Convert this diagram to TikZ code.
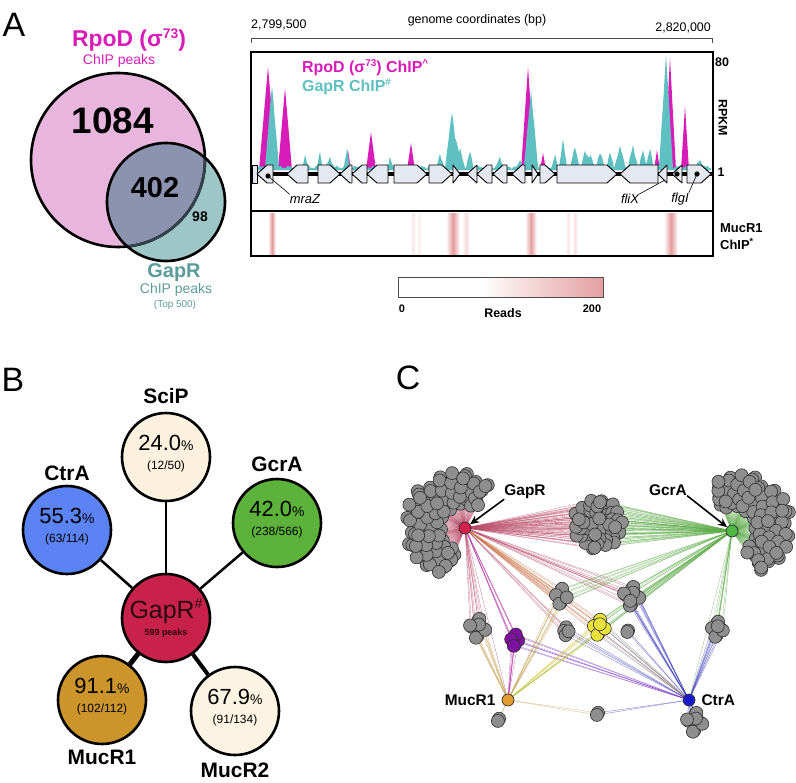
\documentclass[tikz,border=0pt]{standalone}
\usepackage{fontspec}
\setmainfont{Liberation Sans}
\usetikzlibrary{arrows.meta, calc, positioning}

\newcommand{\setfs}[1]{\fontsize{#1}{#1}\selectfont}
\newcommand{\supx}[3]{\raisebox{#2bp}{\setfs{#1}#3}}

\definecolor{rpodmag}{HTML}{D81CB8}
\definecolor{gaprteal}{HTML}{5FC0C2}
\definecolor{gaprtxt}{HTML}{5A9C9A}
\definecolor{vennpink}{HTML}{E8B6DD}
\definecolor{venntl}{HTML}{9EC6C7}
\definecolor{vennov}{HTML}{8B93AE}
\definecolor{ovline}{HTML}{34404C}
\definecolor{genefill}{HTML}{E4E8F0}
\definecolor{heat}{HTML}{E39A9B}
\definecolor{scipc}{HTML}{FBF1DE}
\definecolor{ctrac}{HTML}{5B83F4}
\definecolor{gcrac}{HTML}{5CB23A}
\definecolor{gaprc}{HTML}{C9224A}
\definecolor{gaprdark}{HTML}{2A0810}
\definecolor{mucronec}{HTML}{CB952C}
\definecolor{mucrtwoc}{HTML}{FCF3E3}
\definecolor{dotgray}{HTML}{8E8E8E}
\definecolor{dotline}{HTML}{2E2E2E}
\definecolor{hubred}{HTML}{D8204C}
\definecolor{hubgreen}{HTML}{4FB845}
\definecolor{hubgold}{HTML}{E09C2E}
\definecolor{hubblue}{HTML}{1A1ACC}
\definecolor{clpurple}{HTML}{7E119F}
\definecolor{clyellow}{HTML}{E8E23A}
\definecolor{ered}{HTML}{B84A68}
\definecolor{egreen}{HTML}{5DAA48}
\definecolor{egold}{HTML}{C4A050}
\definecolor{eblue}{HTML}{3A3AB8}
\definecolor{epurp}{HTML}{7A30C0}
\definecolor{emag}{HTML}{B02AA0}
\definecolor{eorng}{HTML}{D08050}
\definecolor{egray}{HTML}{8A8A8A}
\definecolor{eyel}{HTML}{D8C840}

\tikzset{
  declare function={pk(\pkx,\pkc,\pkw)=max(0,1-abs(\pkx-\pkc)/\pkw);},
  gene/.style={draw=black, fill=genefill, line width=0.9bp, line join=round},
  leader/.style={draw=black, line width=0.6bp},
  gname/.style={font=\setfs{13}\itshape},
  tfnode/.style={circle, draw=black, line width=2.6bp, minimum size=88bp, align=center, font=\setfs{12}},
  tflbl/.style={font=\setfs{21}\bfseries},
  cedge/.style={line width=0.4bp, opacity=0.6},
  gdot/.style={draw=dotline, line width=0.6bp, fill=dotgray},
  hub/.style={circle, draw=dotline, line width=0.7bp, minimum size=12bp},
  clbl/.style={font=\setfs{15.5}\bfseries},
  carrow/.style={-{Stealth[length=9bp, width=8bp]}, line width=1.6bp},
}

\begin{document}
\begin{tikzpicture}[x=1bp, y=-1bp, every node/.style={inner sep=0pt}]
  \useasboundingbox (0,0) rectangle (796,783);

  % ----- panel A : venn
  \node[font=\setfs{34}] (laba) at (14,25) {A};
  \fill[vennpink] (118,160) circle[radius=87bp];
  \fill[venntl] (166,202) circle[radius=59bp];
  \begin{scope}
    \clip (118,160) circle[radius=87bp];
    \fill[vennov] (166,202) circle[radius=59bp];
  \end{scope}
  \draw[line width=2.6bp] (118,160) circle[radius=87bp];
  \begin{scope}
    \clip (166,202) circle[radius=59bp];
    \draw[line width=2.6bp, ovline] (118,160) circle[radius=87bp];
  \end{scope}
  \draw[line width=2.6bp] (166,202) circle[radius=59bp];
  \node[font=\setfs{23}\bfseries, text=rpodmag] (rpod) at (129,40) {RpoD (σ\supx{14}{8}{73})};
  \node[font=\setfs{14}, text=rpodmag] at (119,61) {ChIP peaks};
  \node[font=\setfs{37}\bfseries] at (113,121) {1084};
  \node[font=\setfs{29}\bfseries] at (155,188) {402};
  \node[font=\setfs{14}\bfseries] at (200,217) {98};
  \node[font=\setfs{20}\bfseries, text=gaprtxt] (gaprv) at (174,273) {GapR};
  \node[font=\setfs{14}, text=gaprtxt] at (176,290) {ChIP peaks};
  \node[font=\setfs{10}, text=gaprtxt] at (175,305) {(Top 500)};

  % ----- panel A : genome track
  \node[font=\setfs{12.5}, anchor=west] at (251,25) {2,799,500};
  \node[font=\setfs{12.5}] at (477,20) {genome coordinates (bp)};
  \node[font=\setfs{12.5}, anchor=east] at (711,28) {2,820,000};
  \draw[line width=0.7bp, black!70] (251,43) -- (251,38) -- (712,38) -- (712,43);

  \begin{scope}
    \clip (253,53) rectangle (711,209);
    \fill[rpodmag] (252,170) -- plot[domain=252:712, samples=461] (\x, {170 - (103*pk(\x,268,9) + 82*pk(\x,285,7) + 20*pk(\x,348,3) + 38*pk(\x,371,5) + 27*pk(\x,411,4) + 103*pk(\x,528,7) + 17*pk(\x,543,3) + 20*pk(\x,657,3) + 112*pk(\x,670,6) + 64*pk(\x,685,4))}) -- (712,170) -- cycle;
    \fill[gaprteal] (252,170) -- plot[domain=252:712, samples=461] (\x, {170 - (82*pk(\x,272,7) + 55*pk(\x,452,7) + 77*pk(\x,531,7) + 112*pk(\x,666,7) + 27*pk(\x,563,4) + 20*pk(\x,575,5) + 20*pk(\x,620,6) + 22*pk(\x,633,5) + 18*pk(\x,643,4) + 18*pk(\x,347,3) + 18*pk(\x,460,5) + 15*pk(\x,320,3) + 12*pk(\x,305,3) + 10*pk(\x,390,3) + 10*pk(\x,500,4) + 12*pk(\x,590,5) + 14*pk(\x,600,5) + 8*pk(\x,700,4) + 10*pk(\x,330,4) + 12*pk(\x,440,4) + 15*pk(\x,470,4) + 12*pk(\x,555,3) + 16*pk(\x,585,4) + 14*pk(\x,610,4) + 18*pk(\x,650,4) + 8*pk(\x,520,3) + 2.5*abs(sin(\x*19)) + 2*abs(sin(mod(\x*17,360)*3)))}) -- (712,170) -- cycle;
  \end{scope}
  \node[font=\setfs{16}\bfseries, text=rpodmag, anchor=west] at (302,68) {RpoD (σ\supx{10}{6}{73}) ChIP\supx{10}{6}{\textasciicircum}};
  \node[font=\setfs{16}\bfseries, text=gaprteal, anchor=west] at (302,87) {GapR ChIP\supx{10}{6}{\#}};

  % genes
  \draw[line width=4.5bp] (252,174) -- (712,174);
  \draw[gene] (252,165) rectangle (257,183);
  \foreach \a/\b in {318/340, 394/427, 429/452, 453/460, 532/538, 540/555, 557/617, 687/711}{
    \pgfmathsetmacro{\hd}{min(10,\b-\a)}
    \draw[gene] (\a,165) -- ({\b-\hd},165) -- (\b,174) -- ({\b-\hd},183) -- (\a,183) -- cycle;
  }
  \foreach \a/\b in {257/273, 287/308, 340/352, 352/367, 367/388, 467/477, 477/492, 493/507, 512/525, 620/658, 658/667, 672/682}{
    \pgfmathsetmacro{\hd}{min(10,\b-\a)}
    \draw[gene] (\b,165) -- ({\a+\hd},165) -- (\a,174) -- ({\a+\hd},183) -- (\b,183) -- cycle;
  }
  \coordinate (mrazdot) at (268,176);
  \coordinate (flixtip) at (665,180);
  \coordinate (flgidot) at (697,174);
  \fill (mrazdot) circle[radius=2.6bp];
  \fill (677,174) circle[radius=2.6bp];
  \fill (flgidot) circle[radius=2.6bp];
  \node[gname] (mraz) at (305,199) {mraZ};
  \node[gname] (flix) at (630,199) {fliX};
  \node[gname] (flgi) at (680,199) {flgI};
  \draw[leader] (mrazdot) -- (mraz.north west);
  \draw[leader] (flix.north east) -- (flixtip);
  \draw[leader] (flgi.north east) -- (flgidot);

  % mucR1 heat stripes
  \foreach \c/\w/\k in {272/4/100, 413/3/25, 419/2/20, 453/7/100, 466/4/35, 531/6/95, 568/3/25, 575/3/30, 671/7/100}
    \shade[left color=white, right color=white, middle color=heat!\k] ({\c-\w},213) rectangle ({\c+\w},255);

  \draw[line width=2.8bp] (251,52) rectangle (713,256);
  \draw[line width=2.8bp] (251,211) -- (713,211);
  \node[font=\setfs{12.5}\bfseries] at (722,62) {80};
  \node[font=\setfs{12.5}\bfseries, rotate=-90] at (723,118) {RPKM};
  \node[font=\setfs{12.5}\bfseries] at (721,172) {1};
  \node[font=\setfs{13}\bfseries, anchor=west] at (720,228) {MucR1};
  \node[font=\setfs{13}\bfseries, anchor=west] at (720,244) {ChIP\supx{9}{5}{*}};

  % colour bar
  \fill[white] (398,277) rectangle (480,297);
  \shade[left color=white, right color=heat!95] (480,277) rectangle (603,297);
  \draw[line width=0.9bp, black!70] (398,277) rectangle (603,297);
  \node[font=\setfs{11}\bfseries] at (402,309) {0};
  \node[font=\setfs{12.5}\bfseries] at (503,313) {Reads};
  \node[font=\setfs{11}\bfseries] at (592,309) {200};

  % ----- panel B
  \node[font=\setfs{34}] (labb) at (13,380) {B};
  \node[tfnode, fill=gaprc, text=gaprdark] (gapr) at (166,618) {{\setfs{25}GapR\supx{14}{10}{\#}}\\[5bp]{\setfs{9}\bfseries 599 peaks}};
  \node[tfnode, fill=scipc] (scip) at (166,457) {{\setfs{22}24.0{\setfs{14}\%}}\\[7bp](12/50)\rule[-10bp]{0pt}{0pt}};
  \node[tfnode, fill=ctrac] (ctra) at (67,530) {{\setfs{22}55.3{\setfs{14}\%}}\\[7bp](63/114)\rule[-10bp]{0pt}{0pt}};
  \node[tfnode, fill=gcrac] (gcra) at (277,523) {{\setfs{22}42.0{\setfs{14}\%}}\\[7bp](238/566)\rule[-10bp]{0pt}{0pt}};
  \node[tfnode, fill=mucronec] (mucrone) at (102,700) {{\setfs{22}91.1{\setfs{14}\%}}\\[7bp](102/112)\rule[-10bp]{0pt}{0pt}};
  \node[tfnode, fill=mucrtwoc] (mucrtwo) at (235,711) {{\setfs{22}67.9{\setfs{14}\%}}\\[7bp](91/134)\rule[-10bp]{0pt}{0pt}};
  \draw[line width=1.5bp] (gapr) -- (scip);
  \draw[line width=2.5bp] (gapr) -- (ctra);
  \draw[line width=2.5bp] (gapr) -- (gcra);
  \draw[line width=5bp] (gapr) -- (mucrone);
  \draw[line width=4bp] (gapr) -- (mucrtwo);
  \node[tflbl, above=8bp of scip] {SciP};
  \node[tflbl, above=4bp of ctra] {CtrA};
  \node[tflbl, above=6bp of gcra] {GcrA};
  \node[tflbl, below=5bp of mucrone] {MucR1};
  \node[tflbl, below=6bp of mucrtwo] {MucR2};

  % ----- panel C
  \node[font=\setfs{34}] (labc) at (408,378) {C};
  \coordinate (hgapr) at (465,528);
  \coordinate (hgcra) at (732,531);
  \coordinate (hmucr) at (508,700);
  \coordinate (hctra) at (689,700);
  % clusters
  \foreach \nm/\cx/\cy/\a/\b in {lcr/465/528/110/300, rcr/732/531/245/415}
    \foreach \i in {1,...,120}{
      \pgfmathsetmacro{\tt}{frac(\i*0.7548777)}
      \pgfmathsetmacro{\ss}{frac(\i*0.5698403)}
      \pgfmathsetmacro{\rr}{23+38*(0.72+0.28*sin(180*\tt))*\ss}
      \coordinate (\nm-\i) at ({\cx+\rr*cos(\a+(\b-\a)*\tt)}, {\cy+\rr*sin(\a+(\b-\a)*\tt)});
    }
  \foreach \nm/\cx/\cy/\R/\N in {mid/598/524/25/60, cl/561/596/8/8, cr/632/596/10/11, ca/478/628/10/10, cp/515/640/6/7, cg/566/631/5/4, cy/599/627/8/9, cs/628/632/2/2, cb/717/629/8/9, cm/499/721/3/2, cn/598/715/3/2, cc/695/722/10/10}
    \foreach \i in {1,...,\N}
      \coordinate (\nm-\i) at ({\cx+\R*sqrt(frac(\i*0.5698403))*cos(360*frac(\i*0.7548777))}, {\cy+\R*sqrt(frac(\i*0.5698403))*sin(360*frac(\i*0.7548777))});
  % edges
  \foreach \h/\nm/\N/\col in {hgapr/lcr/120/ered, hgapr/mid/60/ered, hgcra/mid/60/egreen, hgcra/rcr/120/egreen,
      hgapr/cr/11/ered, hgcra/cr/11/egreen, hgcra/cl/8/egreen, hgapr/cl/8/eorng, hgapr/ca/10/ered, hmucr/ca/10/egold,
      hgapr/cp/7/emag, hmucr/cp/7/emag, hctra/cp/7/epurp, hgapr/cy/9/eorng, hmucr/cy/9/eyel, hgcra/cy/9/egreen,
      hctra/cy/9/egray, hgapr/cg/4/ered, hctra/cg/4/eblue, hctra/cs/2/eblue, hctra/cr/11/eblue, hgcra/cb/9/egreen,
      hctra/cb/9/eblue, hctra/cc/10/eblue, hmucr/cm/2/egold, hmucr/cn/2/egold, hctra/cn/2/eblue, hmucr/cl/8/egold}
    \foreach \i in {1,...,\N}
      \draw[cedge, \col] (\h) -- (\nm-\i);
  \draw[cedge, ered] (hgapr) -- (hctra);
  \draw[cedge, ered] (hgapr) -- (hmucr);
  \draw[cedge, egreen] (hgcra) -- (hmucr);
  \draw[cedge, egreen] (hgcra) -- (hctra);
  % nodes
  \foreach \nm/\N/\col in {lcr/120/dotgray, rcr/120/dotgray, mid/60/dotgray, cl/8/dotgray, cr/11/dotgray, ca/10/dotgray,
      cp/7/clpurple, cg/4/dotgray, cy/9/clyellow, cs/2/dotgray, cb/9/dotgray, cm/2/dotgray, cn/2/dotgray, cc/10/dotgray}
    \foreach \i in {1,...,\N}
      \draw[gdot, fill=\col] (\nm-\i) circle[radius=6.5bp];
  \node[hub, fill=hubred] (ngapr) at (hgapr) {};
  \node[hub, fill=hubgreen] (ngcra) at (hgcra) {};
  \node[hub, fill=hubgold] (nmucr) at (hmucr) {};
  \node[hub, fill=hubblue] (nctra) at (hctra) {};
  \node[clbl] (lgapr) at (525,492) {GapR};
  \node[clbl] (lgcra) at (668,490) {GcrA};
  \draw[carrow] (lgapr.south west) -- (ngapr);
  \draw[carrow] (lgcra.south east) -- (ngcra);
  \node[clbl, left=6bp of nmucr] {MucR1};
  \node[clbl, right=6bp of nctra] {CtrA};
\end{tikzpicture}
\end{document}
